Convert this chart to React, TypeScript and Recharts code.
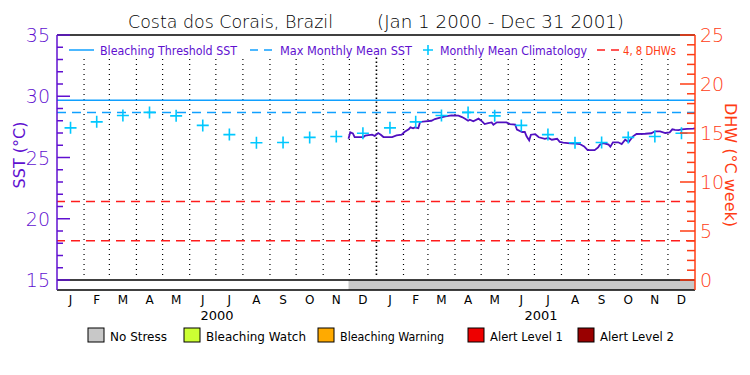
import React from 'react';
import {
  ComposedChart,
  Line,
  Scatter,
  XAxis,
  YAxis,
  ReferenceLine,
  ReferenceArea,
} from 'recharts';

// month labels / calendar
const MONTH_LABELS = ['J', 'F', 'M', 'A', 'M', 'J', 'J', 'A', 'S', 'O', 'N', 'D'];
const MONTH_DAYS_2000 = [31, 29, 31, 30, 31, 30, 31, 31, 30, 31, 30, 31];
const MONTH_DAYS_2001 = [31, 28, 31, 30, 31, 30, 31, 31, 30, 31, 30, 31];
const YEAR_LABELS = ['2000', '2001'];

// monthly mean climatology (deg C), Jan..Dec
const CLIMATOLOGY = [27.42, 27.91, 28.43, 28.68, 28.4, 27.62, 26.87, 26.21, 26.22, 26.64, 26.72, 26.98];

const BLEACHING_THRESHOLD = 29.68;
const MAX_MONTHLY_MEAN = 28.68;
const DHW_LEVELS = [4, 8];

// daily SST, day index from Jan 1 2000
const SST_DAYS = [
  334, 336, 339, 341, 351, 353, 361, 364, 368, 371, 374, 384, 389, 395, 398, 403, 405, 408, 410, 414,
  416, 422, 429, 433, 437, 445, 452, 460, 464, 468, 471, 473, 477, 483, 487, 490, 494, 498, 500, 504,
  515, 519, 525, 527, 533, 536, 538, 541, 543, 548, 552, 559, 563, 567, 573, 576, 580, 588, 594, 599,
  604, 608, 616, 620, 622, 626, 632, 634, 637, 643, 647, 651, 655, 660, 664, 674, 681, 685, 691, 697,
  702, 705, 708, 712, 716, 722, 729, 731,
];
const SST_VALUES = [
  26.53, 27.06, 26.97, 26.67, 26.67, 26.78, 26.86, 26.76, 27.0, 26.86, 26.67, 26.67, 26.8, 26.86, 27.08, 27.3, 27.46, 27.38, 27.46, 27.4,
  27.9, 27.95, 28.0, 28.14, 28.22, 28.35, 28.44, 28.42, 28.3, 28.14, 28.0, 28.08, 27.95, 28.17, 27.95, 27.73, 27.8, 27.86, 27.68, 27.87,
  27.87, 27.73, 27.68, 27.27, 27.08, 27.08, 26.73, 26.4, 26.86, 26.9, 26.65, 26.53, 26.6, 26.45, 26.53, 26.27, 26.22, 26.16, 26.13, 26.1,
  25.91, 25.6, 25.6, 25.83, 26.05, 26.18, 26.05, 25.88, 26.24, 26.24, 26.1, 26.45, 26.27, 26.73, 26.92, 26.94, 26.98, 27.14, 27.14, 27.0,
  27.05, 27.3, 27.25, 27.24, 27.3, 27.33, 27.35, 27.38,
];

// stress level strip: [startDay, endDay, levelIndex]
const STRESS_PERIODS = [[334, 731, 0]];
const STRESS_NAMES = ['No Stress', 'Bleaching Watch', 'Bleaching Warning', 'Alert Level 1', 'Alert Level 2'];
const STRESS_COLORS = ['#c8c8c8', '#ccff33', '#ffaa00', '#ee0000', '#990000'];

const PURPLE = '#6010d0';
const LINE_PURPLE = '#5010c0';
const ORANGE = '#ff3c14';
const RED = '#ff1c1c';
const BLUE = '#10a0ff';
const CYAN = '#00c8ff';
const FONT = 'DejaVu Sans, sans-serif';
const THIN = 200;

const W = 750;
const H = 375;
const PLOT_L = 57;
const PLOT_R = 695;

// calendar helpers
const monthDays = [...MONTH_DAYS_2000, ...MONTH_DAYS_2001];
const monthStarts: number[] = [];
monthDays.reduce((acc, d) => {
  monthStarts.push(acc);
  return acc + d;
}, 0);
const TOTAL_DAYS = monthDays.reduce((a, b) => a + b, 0);
const monthCenters = monthStarts.map((s, i) => s + monthDays[i] / 2);
const monthBoundaries = monthStarts.slice(1);

const sstData = SST_DAYS.map((day, i) => ({ day, sst: SST_VALUES[i] }));
const climData = monthCenters.map((day, i) => ({ day, clim: CLIMATOLOGY[i % 12] }));

const SST_MIN = 15 - 10 / 12.25;
const DHW_MIN = -10 / 9.8;
const sstTicks = Array.from({ length: 21 }, (_, i) => 15 + i);
const dhwTicks = Array.from({ length: 26 }, (_, i) => i);

const SstTick = (props: any) => {
  const { y, payload } = props;
  const major = payload.value % 5 === 0;
  return (
    <g>
      <line x1={PLOT_L} x2={PLOT_L + (major ? 13 : 6)} y1={y} y2={y} stroke={PURPLE} strokeWidth={1.5} />
      {major && (
        <text x={50} y={y + 7} textAnchor="end" fill={PURPLE} fontSize={19} fontWeight={THIN} fontFamily={FONT}>
          {payload.value}
        </text>
      )}
    </g>
  );
};

const DhwTick = (props: any) => {
  const { y, payload } = props;
  const major = payload.value % 5 === 0;
  return (
    <g>
      <line x1={PLOT_R - (major ? 15 : 8)} x2={PLOT_R} y1={y} y2={y} stroke={ORANGE} strokeWidth={1.5} />
      {major && (
        <text x={700} y={y + 7} textAnchor="start" fill={ORANGE} fontSize={19} fontWeight={THIN} fontFamily={FONT}>
          {payload.value}
        </text>
      )}
    </g>
  );
};

const MonthTick = (props: any) => {
  const { x, index } = props;
  return (
    <text x={x} y={304} textAnchor="middle" fill="#000" fontSize={12} fontFamily={FONT}>
      {MONTH_LABELS[index % 12]}
    </text>
  );
};

const Cross = (props: any) => {
  const { cx, cy } = props;
  return (
    <path
      d={`M${cx - 6},${cy}h12M${cx},${cy - 6}v12`}
      stroke={CYAN}
      strokeWidth={1.6}
      fill="none"
    />
  );
};

const topLegend = [
  { kind: 'solid', color: BLUE, x: 69, label: 'Bleaching Threshold SST', tx: 100, tw: 137, tc: PURPLE },
  { kind: 'dash', color: BLUE, x: 250, label: 'Max Monthly Mean SST', tx: 280, tw: 132, tc: PURPLE },
  { kind: 'cross', color: CYAN, x: 421, label: 'Monthly Mean Climatology', tx: 440, tw: 147, tc: PURPLE },
  { kind: 'dash', color: RED, x: 597, label: '4, 8 DHWs', tx: 623, tw: 53, tc: ORANGE },
];

const stressLegendX = [88, 184, 318, 468, 578];
const stressLegendW = [57, 100, 104, 73, 74];

export default function App() {
  return (
    <div style={{ position: 'absolute', left: 0, top: 0, width: W, height: H, background: '#fff' }}>
      <ComposedChart width={W} height={H} margin={{ top: 35, right: 0, bottom: 55, left: 0 }}>
        <XAxis
          xAxisId="d"
          type="number"
          dataKey="day"
          domain={[0, TOTAL_DAYS]}
          ticks={monthCenters}
          interval={0}
          tick={<MonthTick />}
          tickLine={false}
          tickSize={0}
          height={30}
          axisLine={{ stroke: '#000', strokeWidth: 1.5 }}
          allowDataOverflow
        />
        <YAxis
          yAxisId="sst"
          type="number"
          domain={[SST_MIN, 35]}
          ticks={sstTicks}
          interval={0}
          tick={<SstTick />}
          tickLine={false}
          width={57}
          axisLine={{ stroke: PURPLE, strokeWidth: 1.5 }}
          allowDataOverflow
        />
        <YAxis
          yAxisId="dhw"
          orientation="right"
          type="number"
          domain={[DHW_MIN, 25]}
          ticks={dhwTicks}
          interval={0}
          tick={<DhwTick />}
          tickLine={false}
          width={55}
          axisLine={{ stroke: ORANGE, strokeWidth: 1.5 }}
          allowDataOverflow
        />

        {STRESS_PERIODS.map(([a, b, lvl], i) => (
          <ReferenceArea
            key={`st-${i}`}
            xAxisId="d"
            yAxisId="sst"
            x1={a}
            x2={b}
            y1={SST_MIN}
            y2={15}
            fill={STRESS_COLORS[lvl]}
            fillOpacity={1}
            stroke="none"
          />
        ))}

        {monthBoundaries.map((d, i) => (
          <ReferenceLine
            key={`mb-${i}`}
            xAxisId="d"
            yAxisId="sst"
            segment={[
              { x: d, y: 15.4 },
              { x: d, y: 33.2 },
            ]}
            stroke="#000"
            strokeWidth={i === 11 ? 1.6 : 1.2}
            strokeDasharray={i === 11 ? '1.6 2.4' : '1.2 3.8'}
          />
        ))}

        <ReferenceLine xAxisId="d" yAxisId="sst" y={15} stroke="#000" strokeWidth={1.5} />
        <ReferenceLine xAxisId="d" yAxisId="sst" y={35} stroke="#000" strokeWidth={1.5} />

        <ReferenceLine xAxisId="d" yAxisId="sst" y={BLEACHING_THRESHOLD} stroke={BLUE} strokeWidth={1.5} />
        <ReferenceLine
          xAxisId="d"
          yAxisId="sst"
          y={MAX_MONTHLY_MEAN}
          stroke={BLUE}
          strokeWidth={1.5}
          strokeDasharray="9 6"
        />
        {DHW_LEVELS.map((v) => (
          <ReferenceLine
            key={`dhw-${v}`}
            xAxisId="d"
            yAxisId="dhw"
            y={v}
            stroke={RED}
            strokeWidth={1.5}
            strokeDasharray="9 6"
          />
        ))}

        <Scatter
          xAxisId="d"
          yAxisId="sst"
          data={climData}
          dataKey="clim"
          shape={<Cross />}
          isAnimationActive={false}
        />
        <Line
          xAxisId="d"
          yAxisId="sst"
          data={sstData}
          dataKey="sst"
          type="linear"
          stroke={LINE_PURPLE}
          strokeWidth={1.8}
          dot={false}
          isAnimationActive={false}
        />
      </ComposedChart>

      <svg
        width={W}
        height={H}
        style={{ position: 'absolute', left: 0, top: 0, pointerEvents: 'none' }}
        fontFamily={FONT}
      >
        <text x={128} y={28} fontSize={17} fontWeight={THIN} fill="#000" textLength={205} lengthAdjust="spacingAndGlyphs">
          Costa dos Corais, Brazil
        </text>
        <text x={377} y={28} fontSize={17} fontWeight={THIN} fill="#000" textLength={247} lengthAdjust="spacingAndGlyphs">
          (Jan 1 2000 - Dec 31 2001)
        </text>

        {topLegend.map((it, i) => (
          <g key={`tl-${i}`}>
            {it.kind === 'solid' && <line x1={it.x} x2={it.x + 25} y1={50} y2={50} stroke={it.color} strokeWidth={1.5} />}
            {it.kind === 'dash' && (
              <line x1={it.x} x2={it.x + 25} y1={50} y2={50} stroke={it.color} strokeWidth={1.5} strokeDasharray="8 6" />
            )}
            {it.kind === 'cross' && (
              <path d={`M${it.x + 2},50h10M${it.x + 7},45v10`} stroke={it.color} strokeWidth={1.6} />
            )}
            <text x={it.tx} y={55} fontSize={13} fill={it.tc} textLength={it.tw} lengthAdjust="spacingAndGlyphs">
              {it.label}
            </text>
          </g>
        ))}

        <text
          transform="translate(25,155) rotate(-90)"
          textAnchor="middle"
          fontSize={16}
          fill={PURPLE}
        >
          SST (°C)
        </text>
        <text
          transform="translate(725,165) rotate(90)"
          textAnchor="middle"
          fontSize={16}
          fill={ORANGE}
        >
          DHW (°C week)
        </text>

        {YEAR_LABELS.map((y, i) => (
          <text key={y} x={i === 0 ? 217 : 541} y={320} textAnchor="middle" fontSize={13} fill="#000">
            {y}
          </text>
        ))}

        {STRESS_NAMES.map((n, i) => (
          <g key={n}>
            <rect x={stressLegendX[i]} y={328} width={16} height={14} fill={STRESS_COLORS[i]} stroke="#000" strokeWidth={1} />
            <text
              x={stressLegendX[i] + 22}
              y={341}
              fontSize={13}
              fill="#000"
              textLength={stressLegendW[i]}
              lengthAdjust="spacingAndGlyphs"
            >
              {n}
            </text>
          </g>
        ))}
      </svg>
    </div>
  );
}
